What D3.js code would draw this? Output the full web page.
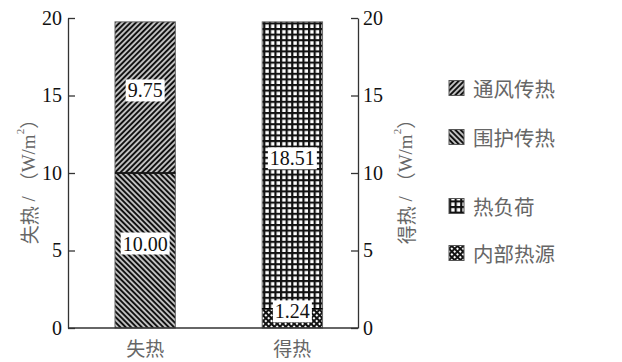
<!DOCTYPE html>
<html>
<head>
<meta charset="utf-8">
<script src="https://cdn.jsdelivr.net/npm/d3@7"></script>
<style>
  body { margin: 0; background: #fff; }
  .cn { font-family: "Noto Sans CJK SC", sans-serif; fill: #666; }
</style>
</head>
<body>
<div id="chart"></div>
<script>
// categories and stacked segments (bottom -> top)
const categories = ['失热', '得热'];
const lossSeries = ['围护传热', '通风传热'];
const lossValues = [10.00, 9.75];
const gainSeries = ['内部热源', '热负荷'];
const gainValues = [1.24, 18.51];
const legendItems = ['通风传热', '围护传热', '热负荷', '内部热源'];
const yTicks = [0, 5, 10, 15, 20];

const W = 622, H = 362;
const serif = '"Liberation Serif", "DejaVu Serif", "Times New Roman", serif';
const svg = d3.select('#chart').append('svg')
  .attr('width', W).attr('height', H);

// patterns
const defs = svg.append('defs');
function hatch(id, angle, size, sw) {
  const p = defs.append('pattern')
    .attr('id', id)
    .attr('patternUnits', 'userSpaceOnUse')
    .attr('width', size).attr('height', size)
    .attr('patternTransform', `rotate(${angle})`);
  p.append('rect').attr('width', size).attr('height', size).attr('fill', '#fff');
  p.append('line').attr('x1', size / 2).attr('y1', 0).attr('x2', size / 2).attr('y2', size)
    .attr('stroke', '#111').attr('stroke-width', sw);
}
hatch('p-vent', 45, 3.8, 2.4);
hatch('p-env', -45, 3.8, 2.4);

const grid = defs.append('pattern')
  .attr('id', 'p-load').attr('patternUnits', 'userSpaceOnUse')
  .attr('width', 5.6).attr('height', 5.6);
grid.append('rect').attr('width', 5.6).attr('height', 5.6).attr('fill', '#fff');
grid.append('path').attr('d', 'M0,1H5.6M1,0V5.6')
  .attr('stroke', '#111').attr('stroke-width', 2.4);

const cross = defs.append('pattern')
  .attr('id', 'p-int').attr('patternUnits', 'userSpaceOnUse')
  .attr('width', 4).attr('height', 4)
  .attr('patternTransform', 'rotate(45)');
cross.append('rect').attr('width', 4).attr('height', 4).attr('fill', '#fff');
cross.append('path').attr('d', 'M0,1H4M1,0V4')
  .attr('stroke', '#111').attr('stroke-width', 1.9);

const fills = {
  '通风传热': 'url(#p-vent)',
  '围护传热': 'url(#p-env)',
  '热负荷': 'url(#p-load)',
  '内部热源': 'url(#p-int)'
};

const plotL = 68, plotR = 358, plotT = 18, plotB = 328;
const y = d3.scaleLinear().domain([0, 20]).range([plotB, plotT]);
const x = d3.scaleBand().domain(categories).range([plotL, plotR])
  .paddingInner(0.59).paddingOuter(0.28).align(0.57);

// stacked bars
const stacks = [
  { cat: categories[0], series: lossSeries, values: lossValues },
  { cat: categories[1], series: gainSeries, values: gainValues }
];

stacks.forEach(s => {
  let acc = 0;
  const segs = s.values.map((v, i) => {
    const seg = { name: s.series[i], y0: acc, y1: acc + v, v };
    acc += v;
    return seg;
  });
  const g = svg.append('g');
  g.selectAll('rect').data(segs).enter().append('rect')
    .attr('x', x(s.cat))
    .attr('width', x.bandwidth())
    .attr('y', d => y(d.y1))
    .attr('height', d => y(d.y0) - y(d.y1))
    .attr('fill', d => fills[d.name])
    .attr('stroke', '#666')
    .attr('stroke-width', 1);
  // divider between segments
  g.append('line')
    .attr('x1', x(s.cat)).attr('x2', x(s.cat) + x.bandwidth())
    .attr('y1', y(segs[0].y1)).attr('y2', y(segs[0].y1))
    .attr('stroke', '#000').attr('stroke-width', 1.5);
  // value labels
  segs.forEach(d => {
    const cx = x(s.cat) + x.bandwidth() / 2;
    const cy = Math.min((y(d.y0) + y(d.y1)) / 2 - 7, plotB - 12);
    const lg = g.append('g');
    const t = lg.append('text')
      .attr('x', cx).attr('y', cy)
      .attr('text-anchor', 'middle').attr('dominant-baseline', 'central')
      .attr('font-family', serif)
      .attr('font-size', 20).attr('fill', '#111')
      .text(d.v.toFixed(2));
    const bb = t.node().getBBox();
    lg.insert('rect', 'text')
      .attr('x', bb.x - 2).attr('y', cy - 11)
      .attr('width', bb.width + 4).attr('height', 22)
      .attr('fill', '#fff');
  });
});

// axes
const axL = svg.append('g').attr('transform', `translate(${plotL},0)`)
  .call(d3.axisLeft(y).tickValues(yTicks).tickSize(-7).tickSizeOuter(0).tickPadding(6));
const axR = svg.append('g').attr('transform', `translate(${plotR},0)`)
  .call(d3.axisRight(y).tickValues(yTicks).tickSize(-7).tickSizeOuter(0).tickPadding(5));
[axL, axR].forEach(a => {
  a.attr('font-family', serif).attr('font-size', 20);
  a.selectAll('path, line').attr('stroke', '#333').attr('stroke-width', 1.3);
  a.selectAll('text').attr('fill', '#111');
});
svg.append('line')
  .attr('x1', plotL).attr('x2', plotR).attr('y1', plotB).attr('y2', plotB)
  .attr('stroke', '#333').attr('stroke-width', 1.3);

// category labels
svg.selectAll('.xlab').data(categories).enter().append('text')
  .attr('class', 'cn')
  .attr('x', d => x(d) + x.bandwidth() / 2)
  .attr('y', 347)
  .attr('text-anchor', 'middle').attr('dominant-baseline', 'central')
  .attr('font-size', 19)
  .text(d => d);

// axis titles
function yTitle(tx, label) {
  const t = svg.append('text')
    .attr('transform', `translate(${tx},177) rotate(-90)`)
    .attr('text-anchor', 'middle').attr('dominant-baseline', 'central')
    .attr('fill', '#666').attr('font-size', 19);
  t.append('tspan').attr('font-family', '"Noto Sans CJK SC", sans-serif').text(label);
  t.append('tspan').attr('font-family', serif).text(' / ');
  t.append('tspan').attr('font-family', '"Noto Sans CJK SC", sans-serif').text('（');
  t.append('tspan').attr('font-family', serif).text('W/m');
  t.append('tspan').attr('font-family', serif)
    .attr('font-size', 11).attr('dy', -8).text('2');
  t.append('tspan').attr('font-family', '"Noto Sans CJK SC", sans-serif')
    .attr('dy', 8).text('）');
}
yTitle(28, '失热');
yTitle(405, '得热');

// legend
const legendY = [88, 137, 206, 253];
const lg = svg.selectAll('.leg').data(legendItems).enter().append('g')
  .attr('transform', (d, i) => `translate(449,${legendY[i]})`);
lg.append('rect')
  .attr('x', 0).attr('y', -7.5).attr('width', 15).attr('height', 15)
  .attr('fill', d => fills[d]).attr('stroke', '#555').attr('stroke-width', 1);
lg.append('text').attr('class', 'cn')
  .attr('x', 24).attr('y', 0)
  .attr('dominant-baseline', 'central')
  .attr('font-size', 20.5)
  .text(d => d);
</script>
</body>
</html>
